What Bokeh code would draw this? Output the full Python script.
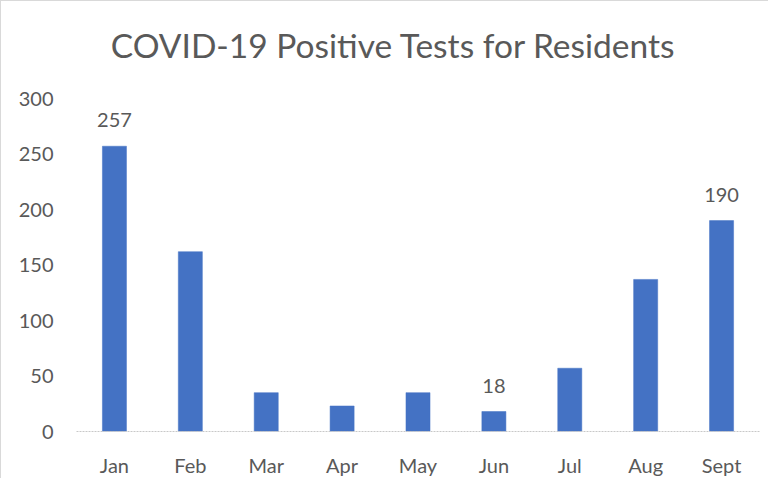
from bokeh.plotting import figure
from bokeh.models import ColumnDataSource, Range1d, FactorRange, FixedTicker
from bokeh.core.properties import value
from bokeh.embed import file_html
from bokeh.resources import INLINE

months = ["Jan", "Feb", "Mar", "Apr", "May", "Jun", "Jul", "Aug", "Sept"]
tests = [257, 162, 35, 23, 35, 18, 57, 137, 190]
labeled = ["257", "", "", "", "", "18", "", "", "190"]
y_ticks = [0, 50, 100, 150, 200, 250, 300]
title_text = "COVID-19 Positive Tests for Residents"

FONT = "Lato"
GRAY = "#595959"
BLUE = "#4472C4"

# layout (pixels inside the figure)
H = 478
FRAME_BOTTOM = 430        # y of the zero line
AXIS_TOP_PX = 97          # y of the 300 tick
TITLE_MID_PX = 43         # vertical middle of the title
px_per_unit = (FRAME_BOTTOM - AXIS_TOP_PX) / 300
y_end = FRAME_BOTTOM / px_per_unit
title_y = (FRAME_BOTTOM - TITLE_MID_PX) / px_per_unit

src = ColumnDataSource(dict(month=months, tests=tests, lab=labeled))

p = figure(width=768, height=H, x_range=FactorRange(*months, range_padding=0),
           y_range=Range1d(0, y_end), output_backend="svg", toolbar_location=None,
           min_border_left=75, min_border_right=10, min_border_top=0,
           min_border_bottom=H - FRAME_BOTTOM)
p.styles = {"border-top": "1px solid #D9D9D9", "border-left": "1px solid #D9D9D9"}

p.vbar(x="month", top="tests", width=0.317, source=src, fill_color=BLUE,
       line_color=BLUE, line_width=0.5)
p.text(x="month", y="tests", text="lab", source=src, text_align="center",
       text_baseline="middle", y_offset=-26, text_color=GRAY,
       text_font=value(FONT), text_font_size="20px")

# chart title
p.text(x=["May"], y=[title_y], text=[title_text], x_offset=-24.5,
       text_align="center", text_baseline="middle", text_color=GRAY,
       text_font=value(FONT), text_font_size="33.5px")

p.xgrid.grid_line_color = None
p.ygrid.grid_line_color = None
p.outline_line_color = None

p.yaxis.ticker = FixedTicker(ticks=y_ticks)
p.yaxis.axis_line_color = None
p.yaxis.major_tick_line_color = None
p.yaxis.minor_tick_line_color = None
p.yaxis.major_label_standoff = 17

p.xaxis.axis_line_color = "#C8C8C8"
p.xaxis.axis_line_dash = "2 1"
p.xaxis.axis_line_width = 1
p.xaxis.major_tick_line_color = None
p.xaxis.minor_tick_line_color = None
p.xaxis.major_label_standoff = 15

for ax in (p.xaxis, p.yaxis):
    ax.major_label_text_font = FONT
    ax.major_label_text_font_size = "20px"
    ax.major_label_text_color = GRAY

open("out.html", "w").write(file_html(p, INLINE))
